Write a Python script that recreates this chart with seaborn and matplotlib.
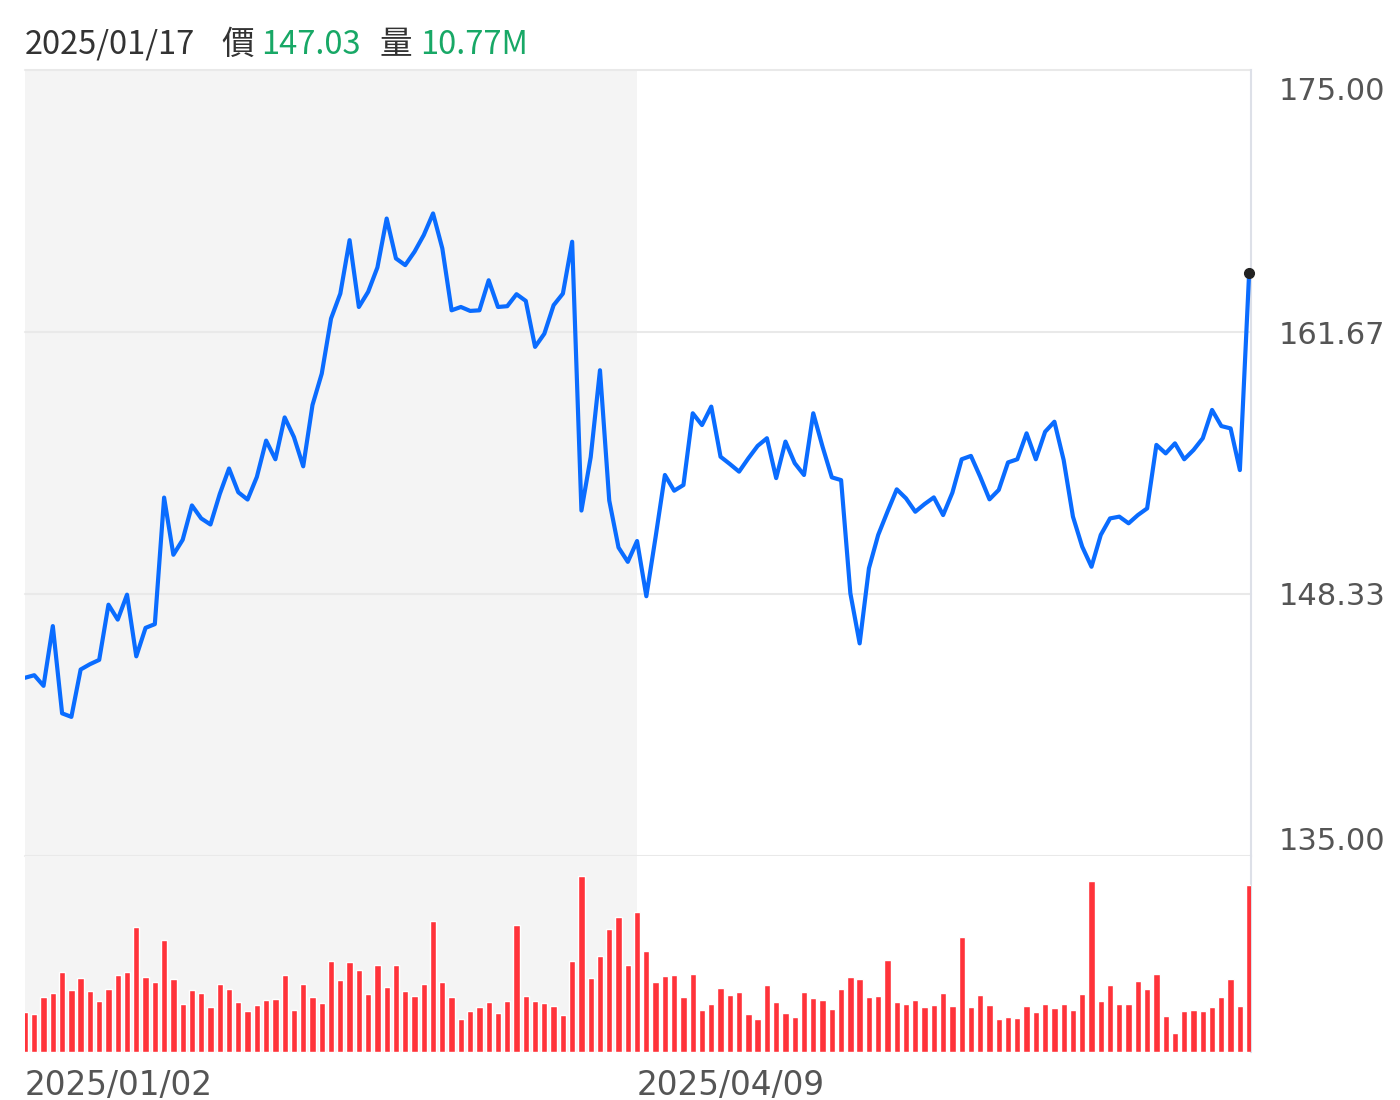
import numpy as np
import pandas as pd
import seaborn as sns
from matplotlib import pyplot as plt
from matplotlib import transforms as mtrans

sns.set_theme(style='white')
plt.rcParams['font.family'] = ['DejaVu Sans', 'Noto Sans CJK TC']

# 收盤價 (2025/01/02 起每個交易日)
prices = [144.07, 144.20, 143.66, 146.70, 142.26, 142.08, 144.49, 144.76, 144.98, 147.79,
          147.03, 148.30, 145.16, 146.61, 146.80, 153.24, 150.33, 151.09, 152.84, 152.18,
          151.87, 153.42, 154.72, 153.51, 153.14, 154.29, 156.14, 155.19, 157.32, 156.32,
          154.83, 157.95, 159.55, 162.35, 163.62, 166.34, 162.94, 163.71, 164.95, 167.44,
          165.41, 165.07, 165.75, 166.60, 167.70, 165.92, 162.77, 162.94, 162.74, 162.77,
          164.30, 162.94, 162.98, 163.59, 163.25, 160.91, 161.58, 163.03, 163.62, 166.26,
          152.58, 155.30, 159.72, 153.09, 150.70, 149.97, 151.03, 148.22, 151.24, 154.39,
          153.59, 153.88, 157.53, 156.93, 157.87, 155.32, 154.95, 154.56, 155.24, 155.87,
          156.26, 154.23, 156.09, 154.99, 154.39, 157.53, 155.83, 154.27, 154.13, 148.37,
          145.82, 149.64, 151.34, 152.52, 153.66, 153.20, 152.52, 152.91, 153.25, 152.35,
          153.49, 155.19, 155.36, 154.30, 153.15, 153.63, 155.03, 155.19, 156.51, 155.19,
          156.59, 157.10, 155.15, 152.27, 150.74, 149.72, 151.34, 152.18, 152.27, 151.93,
          152.35, 152.69, 155.92, 155.49, 156.00, 155.19, 155.66, 156.26, 157.70, 156.88,
          156.76, 154.64, 164.68]

# 成交量 (百萬股)
volumes = [5.57, 5.34, 7.62, 8.22, 11.15, 8.59, 10.31, 8.45, 7.06, 8.78,
           10.77, 11.10, 17.42, 10.45, 9.75, 15.56, 10.22, 6.73, 8.68, 8.22,
           6.22, 9.52, 8.78, 7.01, 5.67, 6.50, 7.20, 7.38, 10.68, 5.90,
           9.52, 7.66, 6.83, 12.72, 10.08, 12.49, 11.47, 8.13, 12.17, 9.01,
           12.07, 8.45, 7.76, 9.52, 18.20, 9.71, 7.66, 4.64, 5.76, 6.22,
           6.97, 5.43, 7.06, 17.65, 7.76, 7.06, 6.83, 6.36, 5.20, 12.63,
           24.57, 10.31, 13.42, 17.18, 18.76, 12.07, 19.50, 14.12, 9.75, 10.63,
           10.77, 7.66, 10.91, 5.80, 6.73, 8.92, 7.99, 8.36, 5.25, 4.64,
           9.38, 6.92, 5.43, 4.88, 8.36, 7.52, 7.29, 6.04, 8.78, 10.45,
           10.17, 7.62, 7.76, 12.86, 6.97, 6.69, 7.20, 6.27, 6.59, 8.22,
           6.46, 15.98, 6.22, 7.89, 6.59, 4.64, 4.83, 4.74, 6.36, 5.53,
           6.69, 6.13, 6.69, 5.90, 8.08, 23.78, 7.06, 9.38, 6.73, 6.73,
           9.94, 8.82, 10.87, 4.97, 2.65, 5.76, 5.90, 5.67, 6.27, 7.62,
           10.17, 6.46, 23.31]

tick_pos = [0, 66]
tick_labels = ['2025/01/02', '2025/04/09']
y_ticks = list(np.linspace(135, 175, 4))
hover_date = '2025/01/17'
hover_price = '147.03'
hover_vol = '10.77M'

df = pd.DataFrame({'idx': range(len(prices)), 'price': prices, 'vol': volumes})

W, H = 1400, 1100
fig = plt.figure(figsize=(14, 11), dpi=100)
ax = fig.add_axes([25 / W, 1 - 856 / H, 1226 / W, 786 / H])
axv = fig.add_axes([25 / W, 1 - 1052 / H, 1226 / W, 196 / H])

# 價格
ax.axvspan(tick_pos[0], tick_pos[1], color='#f4f4f4', lw=0, zorder=0)
for v in y_ticks:
    ax.axhline(v, color='#e9e9e9', lw=1.5, zorder=1, clip_on=False)
sns.lineplot(data=df, x='idx', y='price', ax=ax, color='#0a6cff', lw=3.0, zorder=3)
ax.plot(df['idx'].iloc[-1], df['price'].iloc[-1], 'o', color='#222222', ms=7,
        clip_on=False, zorder=4)
ax.set_xlim(0, 132.2)
ax.set_ylim(135, 175)
ax.set_xticks([])
ax.set_xlabel('')
ax.set_ylabel('')
ax.yaxis.tick_right()
ax.set_yticks(y_ticks)
ax.set_yticklabels(['%.2f' % v for v in y_ticks])
ax.tick_params(axis='y', length=0, pad=20, labelsize=22, labelcolor='#555555')
lbls = ax.get_yticklabels()
lbls[0].set_verticalalignment('bottom')
lbls[-1].set_verticalalignment('top')
lbls[-1].set_transform(lbls[-1].get_transform() +
                       mtrans.ScaledTranslation(0, -5 / 72, fig.dpi_scale_trans))
for s in ['top', 'left', 'bottom']:
    ax.spines[s].set_visible(False)
ax.spines['right'].set_color('#dde0e8')
ax.spines['right'].set_linewidth(1.5)

# 成交量
sns.barplot(data=df, x='idx', y='vol', ax=axv, color='#ff333a', saturation=1,
            width=0.68, errorbar=None, zorder=3)
axv.axvspan(tick_pos[0], tick_pos[1], color='#f4f4f4', lw=0, zorder=0)
axv.set_xlim(0, 132.2)
axv.set_ylim(0, 27.3)
axv.set_yticks([])
axv.set_xlabel('')
axv.set_ylabel('')
axv.set_xticks(tick_pos)
axv.set_xticklabels(tick_labels, ha='left')
axv.tick_params(axis='x', length=0, pad=12, labelsize=23.5, labelcolor='#555555')
for s in ['top', 'left', 'bottom']:
    axv.spines[s].set_visible(False)
axv.spines['right'].set_color('#dde0e8')
axv.spines['right'].set_linewidth(1.5)

# 標題列
hy = 1 - 45 / H
hf = ['Noto Sans CJK TC', 'DejaVu Sans']
fs = 23.5
fig.text(25 / W, hy, hover_date, fontsize=fs, color='#333333', va='center', family=hf)
fig.text(221 / W, hy, '價', fontsize=fs, color='#333333', va='center', family=hf)
fig.text(261 / W, hy, hover_price, fontsize=fs, color='#18a866', va='center', family=hf)
fig.text(380 / W, hy, '量', fontsize=fs, color='#333333', va='center', family=hf)
fig.text(420 / W, hy, hover_vol, fontsize=fs, color='#18a866', va='center', family=hf)

fig.savefig('out.png', dpi=100, facecolor='white')
